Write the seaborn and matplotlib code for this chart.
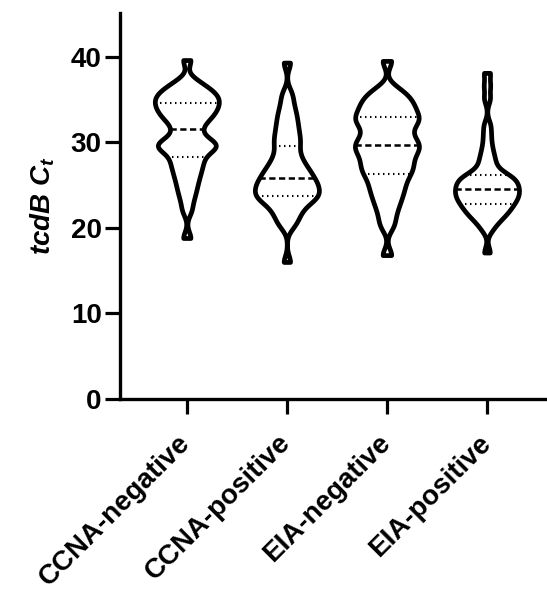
import numpy as np
import pandas as pd
import matplotlib
matplotlib.use("Agg")
import matplotlib.pyplot as plt
import seaborn as sns

categories = ["CCNA-negative", "CCNA-positive", "EIA-negative", "EIA-positive"]

ccna_negative = [18.8, 22.0, 23.15, 24.0, 24.67, 25.28, 25.84, 26.32, 26.78, 27.2, 27.6, 28.0,
                 28.3, 28.8, 29.08, 29.28, 29.45, 29.6, 29.75, 29.92, 30.12, 30.4, 30.8, 31.3,
                 31.7, 32.2, 32.49, 32.77, 33.05, 33.27, 33.49, 33.71, 33.94, 34.14, 34.34, 34.53,
                 34.73, 34.92, 35.12, 35.32, 35.52, 35.72, 35.92, 36.18, 36.49, 36.79, 37.31, 39.6]
ccna_positive = [16.0, 20.1, 20.7, 21.2, 21.65, 22.05, 22.4, 22.7, 22.98, 23.22, 23.42, 23.55,
                 23.7, 23.88, 24.06, 24.24, 24.42, 24.6, 24.78, 24.96, 25.14, 25.32, 25.5, 25.68,
                 25.95, 26.15, 26.37, 26.6, 26.85, 27.12, 27.42, 27.75, 28.12, 28.52, 28.98, 29.5,
                 29.9, 30.33, 30.75, 31.23, 31.72, 32.23, 32.78, 33.36, 34.0, 34.85, 35.8, 39.3]
eia_negative = [16.8, 20.1, 21.1, 22.0, 22.7, 23.3, 23.84, 24.32, 24.78, 25.22, 25.65, 26.05,
                26.4, 26.7, 27.0, 27.3, 27.6, 27.92, 28.24, 28.54, 28.82, 29.08, 29.32, 29.55,
                29.75, 30.0, 30.26, 30.54, 30.86, 31.2, 31.56, 31.9, 32.18, 32.42, 32.64, 32.84,
                33.08, 33.36, 33.64, 33.92, 34.2, 34.5, 34.8, 35.12, 35.46, 35.86, 36.4, 39.5]
eia_positive = [17.1, 19.75, 20.37, 20.82, 21.14, 21.38, 21.61, 21.85, 22.06, 22.24, 22.42, 22.6,
                22.78, 22.96, 23.11, 23.26, 23.4, 23.55, 23.69, 23.84, 23.98, 24.12, 24.26, 24.4,
                24.54, 24.68, 24.82, 24.96, 25.11, 25.26, 25.42, 25.57, 25.73, 25.88, 26.0, 26.15,
                26.4, 26.7, 27.22, 27.72, 28.28, 28.92, 29.78, 30.85, 32.0, 35.12, 36.61, 38.1]

y_ticks = [0, 10, 20, 30, 40]

groups = [ccna_negative, ccna_positive, eia_negative, eia_positive]
df = pd.DataFrame({
    "group": np.repeat(categories, [len(g) for g in groups]),
    "ct": np.concatenate(groups),
})

sns.set_style("ticks")
plt.rcParams["font.family"] = ["Liberation Sans", "DejaVu Sans"]
plt.rcParams["mathtext.fontset"] = "custom"
plt.rcParams["mathtext.it"] = "Liberation Sans:italic:bold"
plt.rcParams["mathtext.rm"] = "Liberation Sans:bold"
for k in ["text.color", "axes.labelcolor", "xtick.color", "ytick.color", "axes.edgecolor"]:
    plt.rcParams[k] = "black"

fig = plt.figure(figsize=(5.47, 5.90), dpi=100)
ax = fig.add_axes([0.219, 0.324, 0.781, 0.654])

sns.violinplot(data=df, x="group", y="ct", order=categories, ax=ax,
               inner="quart", density_norm="width", cut=0, bw_adjust=0.35,
               gridsize=200, width=0.64, color="white", linecolor="black",
               linewidth=3.4, inner_kws=dict(linewidth=1.5, color="black"))

# style quartile lines: quartiles dotted, median dashed
for i, ln in enumerate(ax.lines):
    if i % 3 == 1:
        ln.set_linewidth(1.8)
        ln.set_dashes((2.5, 1.4))
    else:
        ln.set_linewidth(1.5)
        ln.set_dashes((0.7, 1.7))

ax.set_xlim(-0.67, 3.6)
ax.set_ylim(0, 45.1)
ax.set_yticks(y_ticks)
ax.set_xlabel("")
ax.set_ylabel(r"$tcdB\ C_t$", fontsize=20, labelpad=10)
for s in ["top", "right"]:
    ax.spines[s].set_visible(False)
for s in ["left", "bottom"]:
    ax.spines[s].set_linewidth(2.4)
ax.tick_params(axis="both", length=11, width=2.3, labelsize=20)
ax.tick_params(axis="y", pad=2)
ax.tick_params(axis="x", pad=18)
ax.set_xticks(range(len(categories)))
ax.set_xticklabels(categories, rotation=45, ha="right", va="center",
                   rotation_mode="anchor", fontweight="bold")
for t in ax.get_yticklabels():
    t.set_fontweight("bold")

fig.savefig("out.png", dpi=100)
